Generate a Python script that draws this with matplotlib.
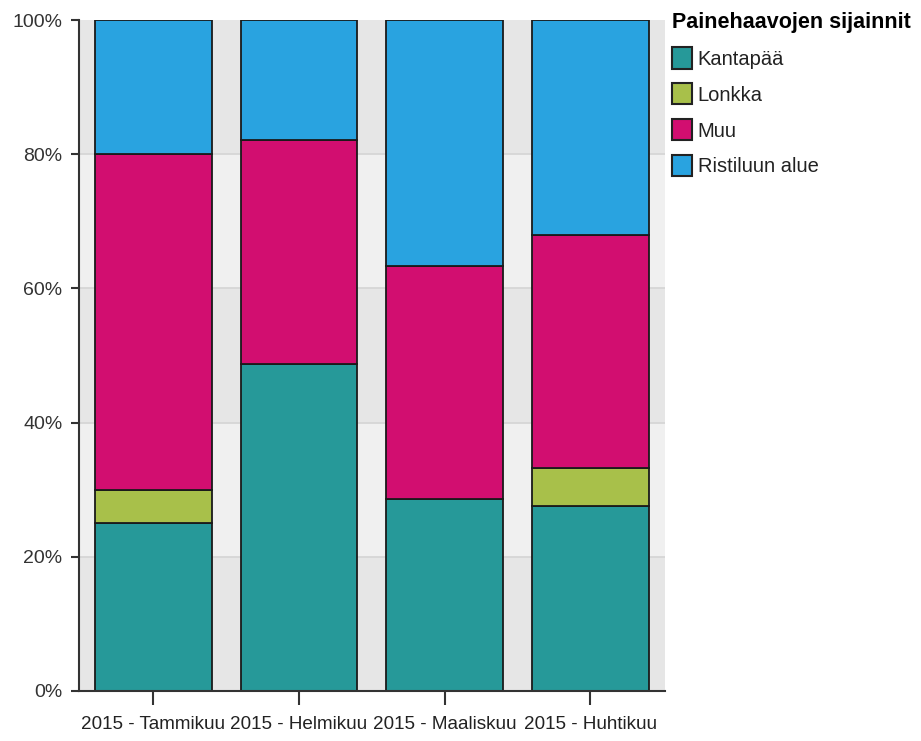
import matplotlib
matplotlib.use("Agg")
import matplotlib.pyplot as plt
import numpy as np
from matplotlib.patches import Patch

categories = ["2015 - Tammikuu", "2015 - Helmikuu", "2015 - Maaliskuu", "2015 - Huhtikuu"]
series_names = ["Kantapää", "Lonkka", "Muu", "Ristiluun alue"]
kantapaa = [25.0, 48.7, 28.6, 27.6]
lonkka = [5.0, 0.0, 0.0, 5.6]
muu = [50.0, 33.4, 34.7, 34.8]
ristiluu = [20.0, 17.9, 36.7, 32.0]
colors = ["#269999", "#a8c04a", "#d20e70", "#29a3e0"]
legend_title = "Painehaavojen sijainnit"
yticks = [0, 20, 40, 60, 80, 100]

FONT = ["Liberation Sans", "DejaVu Sans"]
plt.rcParams['font.family'] = FONT

fig = plt.figure(figsize=(9.21, 7.41), dpi=100)
ax = fig.add_axes([0.0858, 0.0675, 0.636, 0.9055])

# background bands
for i in range(len(yticks) - 1):
    ax.axhspan(yticks[i], yticks[i + 1], color="#e6e6e6" if i % 2 == 0 else "#f0f0f0", zorder=0, lw=0)
for y in yticks[1:-1]:
    ax.axhline(y, color="#d4d4d4", lw=1.2, zorder=0.5)

x = np.arange(len(categories))
bottom = np.zeros(len(categories))
for vals, c in zip([kantapaa, lonkka, muu, ristiluu], colors):
    vals = np.array(vals)
    ax.bar(x, vals, bottom=bottom, width=0.8, color=c, edgecolor="#1a1a1a", lw=1.3, zorder=2)
    bottom += vals

ax.set_xlim(-0.51, 3.51)
ax.set_ylim(0, 100)
ax.set_yticks(yticks)
ax.set_yticklabels([f"{v}%" for v in yticks], fontsize=14, color="#333333")
ax.set_xticks(x)
ax.set_xticklabels(categories, fontsize=13.6, color="#222222")
ax.tick_params(axis='y', length=6, width=1.5, color="#333333", pad=6)
ax.tick_params(axis='x', length=10, width=1.5, color="#333333", pad=8)
for s in ["top", "right"]:
    ax.spines[s].set_visible(False)
for s in ["left", "bottom"]:
    ax.spines[s].set_color("#333333")
    ax.spines[s].set_linewidth(1.5)

handles = [Patch(facecolor=c, edgecolor="#222222", lw=1.5) for c in colors]
leg = fig.legend(handles, series_names, loc="upper left", bbox_to_anchor=(0.7205, 0.995),
                 frameon=False, title=legend_title, fontsize=14.5,
                 title_fontproperties={"weight": "bold", "size": 15.5, "family": FONT},
                 handlelength=1.0, handleheight=1.25, handletextpad=0.3, labelspacing=0.72,
                 borderaxespad=0, alignment="left")
for t in leg.get_texts():
    t.set_color("#222222")

fig.savefig("out.png", dpi=100)
